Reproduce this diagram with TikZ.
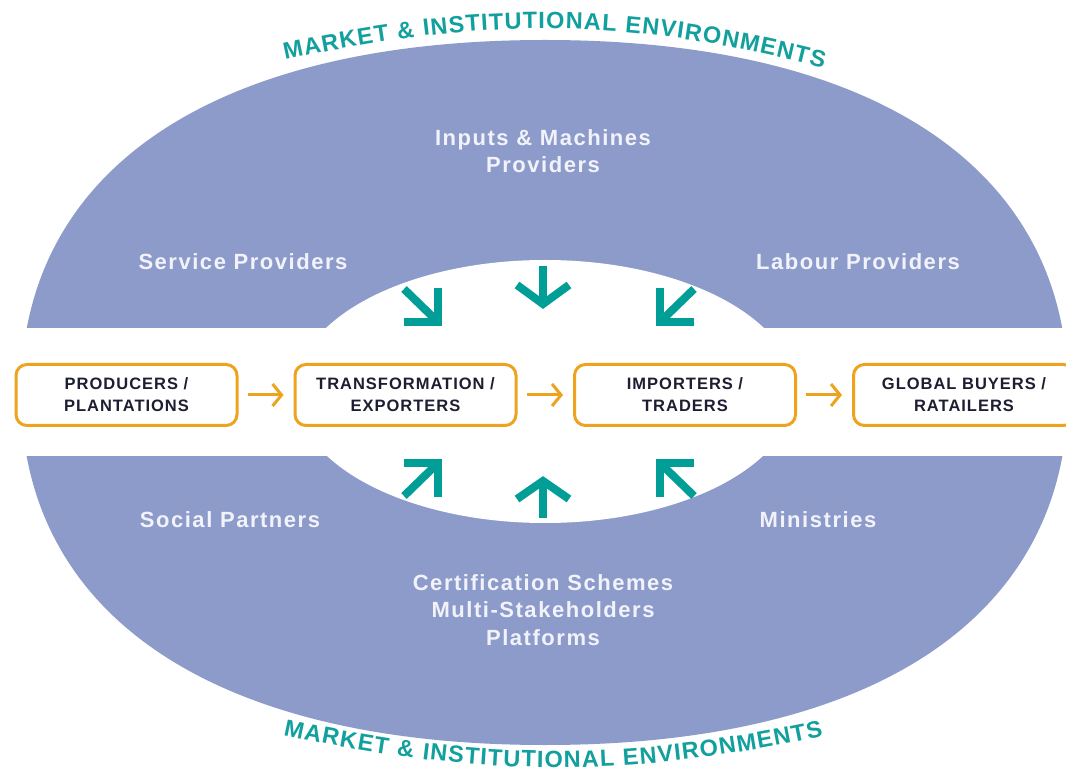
\documentclass[tikz,border=0pt]{standalone}
\usepackage{fontspec}
\usetikzlibrary{arrows.meta,decorations.text}
\newfontfamily\labfont[LetterSpace=7]{Liberation Sans}
\newfontfamily\boxfont[LetterSpace=6]{Liberation Sans}
\newfontfamily\mktfont{Liberation Sans}
\newcommand\mktstyle{\mktfont\bfseries\fontsize{23.5}{26}\selectfont}
\definecolor{lav}{RGB}{141,155,203}
\definecolor{tealA}{RGB}{0,158,150}
\definecolor{tealT}{RGB}{18,160,158}
\definecolor{orangeA}{RGB}{238,163,30}
\definecolor{labcol}{RGB}{242,243,250}
\definecolor{boxtext}{RGB}{30,30,50}
\tikzset{
  chainbox/.style={draw=orangeA, line width=3pt, fill=white, rounded corners=11pt,
    minimum width=221pt, minimum height=61pt, inner sep=0pt, align=center,
    text=boxtext, font=\boxfont\bfseries\fontsize{16.5}{22}\selectfont},
  envlabel/.style={text=labcol, align=center, inner sep=0pt,
    font=\labfont\bfseries\fontsize{22}{27.5}\selectfont},
  flow/.style={draw=orangeA, line width=3pt, shorten <=9pt, shorten >=10pt,
    -{Straight Barb[length=9pt,width=22pt,line width=3pt]}},
  tarrow/.style={draw=tealA, line width=8pt, line join=miter, line cap=butt},
  arctext/.style={decorate, decoration={text along path, text color=tealT,
    text align=fit to path, text={|\mktstyle|MARKET {\&} INSTITUTIONAL ENVIRONMENTS}}}
}
\begin{document}
\begin{tikzpicture}[x=1pt,y=-1pt]
\useasboundingbox (0,0) rectangle (1066,775);
\fill[white] (0,0) rectangle (1066,775);
% outer environment shape
\fill[lav] (1068,392.5) .. controls (1068,170) and (877,40) .. (545,40)
  .. controls (213,40) and (21,170) .. (21,392.5)
  .. controls (21,615) and (213,745) .. (545,745)
  .. controls (877,745) and (1068,615) .. (1068,392.5) -- cycle;
% inner hole and band
\fill[white] (545,391.5) ellipse [x radius=250pt, y radius=131.5pt];
\fill[white] (-5,328.5) rectangle (1075,456.5);
% curved titles
\path[arctext] (285,60) .. controls (480,17) and (630,17) .. (823,68);
\path[arctext] (283,735) .. controls (480,778) and (630,778) .. (823,736);
% environment labels
\node[envlabel] (inputs) at (543,151) {Inputs \& Machines\\Providers};
\node[envlabel] (service) at (243,262) {Service Providers};
\node[envlabel] (labour) at (858,262) {Labour Providers};
\node[envlabel] (social) at (230,520) {Social Partners};
\node[envlabel] (ministries) at (818,520) {Ministries};
\node[envlabel] (cert) at (543,610) {Certification Schemes\\Multi-Stakeholders\\Platforms};
% teal arrows top
\draw[tarrow] (404,289) -- (438,322);
\draw[tarrow] (404,322) -- (438,322) -- (438,288);
\draw[tarrow] (543,266) -- (543,304);
\draw[tarrow] (517,285) -- (543,304) -- (569,285);
\draw[tarrow] (694,289) -- (660,322);
\draw[tarrow] (694,322) -- (660,322) -- (660,288);
% teal arrows bottom
\draw[tarrow] (404,496) -- (438,463);
\draw[tarrow] (404,463) -- (438,463) -- (438,497);
\draw[tarrow] (543,518) -- (543,481);
\draw[tarrow] (517,499) -- (543,481) -- (569,499);
\draw[tarrow] (694,496) -- (660,463);
\draw[tarrow] (694,463) -- (660,463) -- (660,497);
% value chain
\node[chainbox] (prod) at (126.5,395) {PRODUCERS /\\PLANTATIONS};
\node[chainbox] (trans) at (405.5,395) {TRANSFORMATION /\\EXPORTERS};
\node[chainbox] (imp) at (685,395) {IMPORTERS /\\TRADERS};
\node[chainbox] (glob) at (964,395) {GLOBAL BUYERS /\\RATAILERS};
\draw[flow] (prod) -- (trans);
\draw[flow] (trans) -- (imp);
\draw[flow] (imp) -- (glob);
\end{tikzpicture}
\end{document}
